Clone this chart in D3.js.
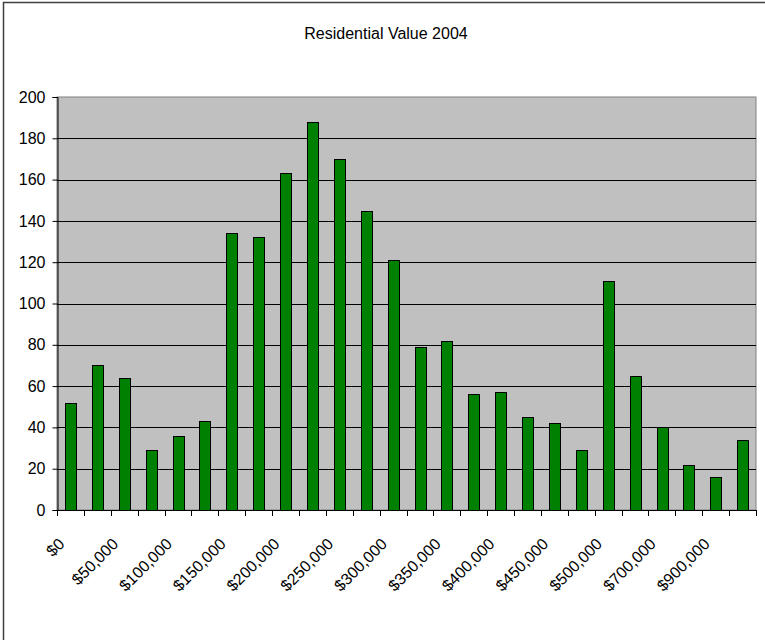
<!DOCTYPE html>
<html>
<head>
<meta charset="utf-8">
<script src="https://cdn.jsdelivr.net/npm/d3@7"></script>
<style>
  body { margin: 0; background: #fff; }
  text { font-family: "Liberation Sans", Arial, sans-serif; fill: #000; }
</style>
</head>
<body>
<div id="chart"></div>
<script>
var categories = ["$0", "$25,000", "$50,000", "$75,000", "$100,000", "$125,000", "$150,000",
    "$175,000", "$200,000", "$225,000", "$250,000", "$275,000", "$300,000", "$325,000",
    "$350,000", "$375,000", "$400,000", "$425,000", "$450,000", "$475,000", "$500,000",
    "$600,000", "$700,000", "$800,000", "$900,000", "$1,000,000"];
var counts = [52, 70, 64, 29, 36, 43, 134, 132, 163, 188, 170, 145, 121, 79, 82,
    56, 57, 45, 42, 29, 111, 65, 40, 22, 16, 34];
var yTicks = [0, 20, 40, 60, 80, 100, 120, 140, 160, 180, 200];
var title = "Residential Value 2004";

var width = 765,
    height = 640,
    margin = {top: 97, right: 9, bottom: 130, left: 57};

var svg = d3.select("#chart").append("svg")
    .attr("width", width)
    .attr("height", height);

// outer frame (runs off the right and bottom edge)
svg.append("rect")
    .attr("x", 3.5)
    .attr("y", 2.5)
    .attr("width", 780)
    .attr("height", 660)
    .attr("fill", "none")
    .attr("stroke", "#404040")
    .attr("stroke-width", 1.5);

svg.append("text")
    .attr("x", 386)
    .attr("y", 39)
    .attr("text-anchor", "middle")
    .style("font-size", "16px")
    .text(title);

var x = d3.scaleBand()
    .domain(categories)
    .range([margin.left, width - margin.right])
    .paddingInner(0.6)
    .paddingOuter(0.3);

var y = d3.scaleLinear()
    .domain([0, 200])
    .range([height - margin.bottom, margin.top]);

// plot area
svg.append("rect")
    .attr("x", margin.left)
    .attr("y", y(200))
    .attr("width", width - margin.right - margin.left)
    .attr("height", y(0) - y(200))
    .attr("fill", "#c0c0c0")
    .attr("stroke", "#808080")
    .attr("stroke-width", 1);

svg.append("g")
    .selectAll("line")
    .data(yTicks.filter(d => d > 0 && d < 200))
    .enter().append("line")
    .attr("x1", margin.left)
    .attr("x2", width - margin.right)
    .attr("y1", d => Math.round(y(d)) + 0.5)
    .attr("y2", d => Math.round(y(d)) + 0.5)
    .attr("stroke", "#000");

svg.append("g")
    .selectAll("rect")
    .data(counts)
    .enter().append("rect")
    .attr("x", (d, i) => Math.round(x(categories[i])) + 0.5)
    .attr("y", d => Math.round(y(d)) + 0.5)
    .attr("width", Math.round(x.bandwidth()))
    .attr("height", d => Math.round(y(0)) - Math.round(y(d)))
    .attr("fill", "#008000")
    .attr("stroke", "#000")
    .attr("stroke-width", 1);

// y axis
var yAxis = d3.axisLeft(y)
    .tickValues(yTicks)
    .tickSize(5)
    .tickPadding(7);
svg.append("g")
    .attr("transform", "translate(" + (margin.left + 0.5) + ",0)")
    .call(yAxis)
    .call(g => g.select(".domain").attr("stroke", "#000"))
    .call(g => g.selectAll("text").style("font-size", "16px").attr("font-family", null));

// x axis: ticks on band boundaries, labels on every other category
var step = x.step();
var boundaries = d3.range(categories.length + 1).map(i => margin.left + i * step);
var xg = svg.append("g");
xg.append("line")
    .attr("x1", margin.left)
    .attr("x2", width - margin.right)
    .attr("y1", Math.round(y(0)) + 0.5)
    .attr("y2", Math.round(y(0)) + 0.5)
    .attr("stroke", "#000");
xg.selectAll(".tick")
    .data(boundaries)
    .enter().append("line")
    .attr("x1", d => Math.round(d) + 0.5)
    .attr("x2", d => Math.round(d) + 0.5)
    .attr("y1", y(0))
    .attr("y2", y(0) + 6)
    .attr("stroke", "#000");

xg.selectAll("text")
    .data(categories.filter((d, i) => i % 2 === 0))
    .enter().append("text")
    .attr("text-anchor", "end")
    .style("font-size", "16px")
    .attr("transform", d => "translate(" + (x(d) + x.bandwidth() / 2 - 5) + "," + (y(0) + 35) + ") rotate(-45)")
    .text(d => d);
</script>
</body>
</html>
